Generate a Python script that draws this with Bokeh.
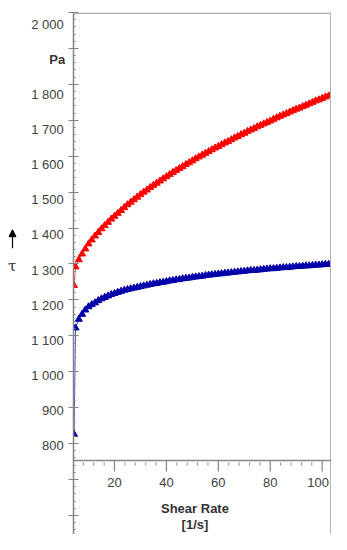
from bokeh.plotting import figure
from bokeh.layouts import row
from bokeh.models import Range1d, FixedTicker, Span, Arrow, NormalHead
from bokeh.embed import file_html
from bokeh.resources import INLINE
from bokeh.core.properties import value

# ---- data ----
shear_rate = [4.4, 5, 6.25, 7.5, 8.75, 10, 11.25, 12.5, 13.75, 15, 16.25, 17.5, 18.75, 20,
              21.25, 22.5, 23.75, 25, 26.25, 27.5, 28.75, 30, 31.25, 32.5, 33.75, 35, 36.25,
              37.5, 38.75, 40, 41.25, 42.5, 43.75, 45, 46.25, 47.5, 48.75, 50, 51.25, 52.5,
              53.75, 55, 56.25, 57.5, 58.75, 60, 61.25, 62.5, 63.75, 65, 66.25, 67.5, 68.75,
              70, 71.25, 72.5, 73.75, 75, 76.25, 77.5, 78.75, 80, 81.25, 82.5, 83.75, 85,
              86.25, 87.5, 88.75, 90, 91.25, 92.5, 93.75, 95, 96.25, 97.5, 98.75, 100,
              101.25, 102.5, 103.5]

tau_red = [1240, 1292, 1312, 1328, 1342, 1356, 1367, 1378, 1388, 1398, 1407, 1416, 1425, 1433,
           1441, 1449, 1457, 1465, 1472, 1479, 1486, 1493, 1500, 1506, 1513, 1519, 1525,
           1531, 1537, 1543, 1549, 1555, 1560, 1566, 1571, 1577, 1582, 1587, 1593, 1598,
           1603, 1608, 1613, 1618, 1623, 1627, 1632, 1637, 1641, 1646, 1651, 1655, 1660,
           1664, 1669, 1673, 1677, 1682, 1686, 1690, 1694, 1698, 1703, 1707, 1711, 1715,
           1719, 1723, 1727, 1731, 1734, 1738, 1742, 1746, 1750, 1754, 1757, 1761,
           1765, 1768, 1771]

tau_blue = [826, 1122, 1146, 1160, 1172, 1181, 1187, 1192, 1198, 1203, 1207, 1211, 1215, 1218,
            1221, 1224, 1227, 1229, 1231, 1233, 1235, 1237, 1239, 1241, 1243, 1245, 1246,
            1248, 1249, 1251, 1253, 1254, 1256, 1257, 1259, 1260, 1261, 1263, 1264, 1265,
            1266, 1268, 1269, 1270, 1271, 1272, 1273, 1274, 1275, 1276, 1277, 1278, 1279,
            1280, 1281, 1282, 1282, 1283, 1284, 1285, 1286, 1287, 1287, 1288, 1289, 1290,
            1290, 1291, 1292, 1293, 1293, 1294, 1295, 1295, 1296, 1297, 1297, 1298,
            1299, 1299, 1300]

y_ticks = [600, 700, 800, 900, 1000, 1100, 1200, 1300, 1400, 1500, 1600, 1700, 1800, 1900, 2000]
y_tick_labels = ["", "", "800", "900", "1 000", "1 100", "1 200", "1 300", "1 400",
                 "1 500", "1 600", "1 700", "1 800", "", "2 000"]
y_unit_label = "Pa"
y_unit_at = 1900
y_symbol = "τ"
y_symbol_at = 1312

x_ticks = [20, 40, 60, 80, 100]
x_tick_labels = ["20", "40", "60", "80", "100"]
x_minor_ticks = [8, 12, 16, 24, 28, 32, 36, 44, 48, 52, 56, 64, 68, 72, 76, 84, 88, 92, 96]
x_title = "Shear Rate"
x_unit = "[1/s]"
x_axis_at = 753

# ---- layout constants (canvas 331 x 534) ----
X0, X1 = 4.2, 103.6
Y0, Y1 = 547, 2000
H = 534
BT, BB = 12, 0
LW = 65            # width of the label strip on the left
ML, MR = 8, 0      # main figure borders
FW = 258           # frame width
UPP = (Y1 - Y0) / (H - BT - BB)   # y units per pixel
XPP = (X1 - X0) / FW

FONT = "Liberation Sans"
LBL = "#404040"
AX = "#858585"

# ---- main plot ----
p = figure(width=ML + FW + MR, height=H, x_range=Range1d(X0, X1), y_range=Range1d(Y0, Y1),
           output_backend="svg", toolbar_location=None, x_axis_location=None,
           min_border_left=ML, min_border_right=MR, min_border_top=BT, min_border_bottom=BB)
p.grid.grid_line_color = None
p.outline_line_color = None
p.background_fill_color = "white"
p.border_fill_color = "white"

minor = [v for v in range(560, 2001, 20) if v % 100 != 0]
ya = p.yaxis[0]
ya.ticker = FixedTicker(ticks=y_ticks, minor_ticks=minor)
ya.major_label_overrides = {t: "" for t in y_ticks}
ya.major_label_standoff = 0
ya.major_label_text_font_size = "1px"
ya.axis_line_color = AX
ya.axis_line_width = 1.5
ya.major_tick_line_color = AX
ya.major_tick_line_width = 1.2
ya.major_tick_in = 5
ya.major_tick_out = 5
ya.minor_tick_line_color = AX
ya.minor_tick_in = 2
ya.minor_tick_out = 0

# frame borders (top and right), kept just inside the frame
p.add_layout(Span(location=Y1 - 0.7 * UPP, dimension="width", line_color="#b0b0b0", line_width=1.5))
p.add_layout(Span(location=X1 - 0.7 * XPP, dimension="height", line_color="#b0b0b0", line_width=1.5))

# x axis drawn inside the frame
p.add_layout(Span(location=x_axis_at, dimension="width", line_color=AX, line_width=1.5))
p.segment(x0=x_ticks, x1=x_ticks, y0=[x_axis_at] * len(x_ticks),
          y1=[x_axis_at - 11 * UPP] * len(x_ticks), line_color=AX, line_width=1.2)
p.segment(x0=x_minor_ticks, x1=x_minor_ticks, y0=[x_axis_at - 2 * UPP] * len(x_minor_ticks),
          y1=[x_axis_at - 5 * UPP] * len(x_minor_ticks), line_color=AX, line_width=1)
label_shift = [0, 0, 0, 0, -4]     # keep the last tick label inside the frame
p.text(x=x_ticks, y=[x_axis_at] * len(x_ticks), text=x_tick_labels, y_offset=22,
       x_offset=label_shift, text_align="center", text_baseline="middle",
       text_font=value(FONT), text_font_size="13px", text_color=LBL)
p.text(x=[51], y=[x_axis_at], text=[x_title], y_offset=48, text_align="center",
       text_baseline="middle", text_font=value(FONT), text_font_size="13px",
       text_font_style="bold", text_color="#333333")
p.text(x=[51], y=[x_axis_at], text=[x_unit], y_offset=64, text_align="center",
       text_baseline="middle", text_font=value(FONT), text_font_size="13px",
       text_font_style="bold", text_color="#333333")

# data
p.line(shear_rate, tau_red, line_color="#ff5050", line_width=1)
p.scatter(shear_rate, tau_red, marker="triangle", size=7, fill_color="#ff0000",
          line_color="#ff0000")
p.line(shear_rate, tau_blue, line_color="#5050d0", line_width=1)
p.scatter(shear_rate, tau_blue, marker="triangle", size=7, fill_color="#0000aa",
          line_color="#0000aa")

# ---- left strip with the y tick labels, unit and symbol ----
q = figure(width=LW, height=H, x_range=Range1d(0, LW),
           y_range=Range1d(Y0 - BB * UPP, Y1 + BT * UPP),
           output_backend="svg", toolbar_location=None,
           x_axis_location=None, y_axis_location=None,
           min_border_left=0, min_border_right=0, min_border_top=0, min_border_bottom=0)
q.grid.grid_line_color = None
q.outline_line_color = None
q.background_fill_color = "white"
q.border_fill_color = "white"
q.text(x=[LW - 1.7] * len(y_ticks), y=y_ticks, text=y_tick_labels, text_align="right",
       text_baseline="middle", text_font=value(FONT), text_font_size="13px", text_color=LBL)
q.text(x=[LW - 0.3], y=[y_unit_at], text=[y_unit_label], text_align="right",
       text_baseline="middle", text_font=value(FONT), text_font_size="13px",
       text_font_style="bold", text_color="#333333")
q.text(x=[11.7], y=[y_symbol_at], text=[y_symbol], text_align="center",
       text_baseline="middle", text_font=value("DejaVu Serif"), text_font_size="15px",
       text_color="#333333")
q.add_layout(Arrow(end=NormalHead(size=7, fill_color="black", line_color="black"),
                   x_start=12, y_start=1362, x_end=12, y_end=1415,
                   line_color="black", line_width=1.2))

layout = row(q, p, spacing=0)
open("out.html", "w").write(file_html(layout, INLINE))
